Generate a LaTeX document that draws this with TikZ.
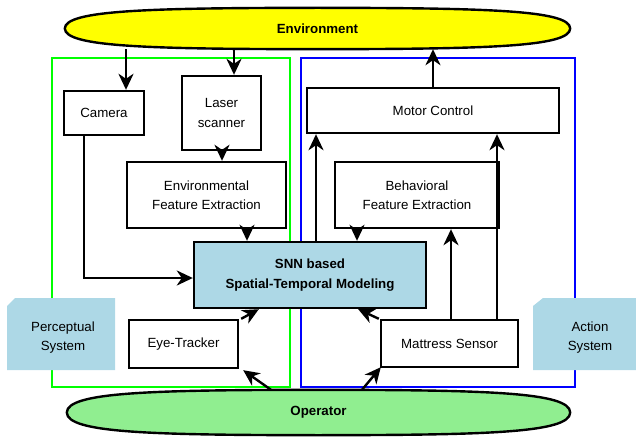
\documentclass[tikz,border=0pt]{standalone}
\usepackage{fontspec}
\setmainfont{Liberation Sans}
\usetikzlibrary{arrows.meta,calc}
\definecolor{envyellow}{HTML}{FFFF00}
\definecolor{opgreen}{HTML}{90EE90}
\definecolor{snnblue}{HTML}{ADD8E6}
\definecolor{percgreen}{HTML}{00FF00}
\definecolor{actblue}{HTML}{0000FF}
\tikzset{
  boxnode/.style={draw=black, line width=2.4pt, fill=white, inner sep=0pt, align=center, font=\fontsize{13.3}{19.5}\selectfont},
  txtnode/.style={inner sep=0pt, align=center, font=\fontsize{13.3}{19.5}\selectfont},
  boldnode/.style={inner sep=0pt, align=center, font=\fontsize{13.3}{19.5}\selectfont\bfseries},
  arr/.style={line width=2.4pt, -{Stealth[length=16pt,width=15pt,inset=5pt]}},
  sysrect/.style={line width=2.2pt},
  cardfill/.style={fill=snnblue, draw=none}
}
\begin{document}
\begin{tikzpicture}[x=1pt,y=-1pt]
\useasboundingbox (0,0) rectangle (636,438);
% system frames
\draw[sysrect, draw=percgreen] (52,58) rectangle (290,387);
\draw[sysrect, draw=actblue] (301,58) rectangle (575,387);
% Environment and Operator
\node[boldnode, minimum width=505pt, minimum height=41pt] (env) at (317.5,28.5) {Environment};
\draw[line width=2.4pt, fill=envyellow] (env.west) .. controls (65,10) and (150,8) .. (env.north) .. controls (485,8) and (570,10) .. (env.east) .. controls (570,47) and (485,49) .. (env.south) .. controls (150,49) and (65,47) .. cycle;
\node[boldnode] at (env.center) {Environment};
\node[boldnode, minimum width=503pt, minimum height=45pt] (op) at (318.5,412.5) {Operator};
\draw[line width=2.4pt, fill=opgreen] (op.west) .. controls (67,392) and (152,390) .. (op.north) .. controls (485,390) and (570,392) .. (op.east) .. controls (570,433) and (485,435) .. (op.south) .. controls (152,435) and (67,433) .. cycle;
\node[boldnode] at (op.center) {Operator};
% boxes
\node[boxnode, minimum width=80pt, minimum height=44pt] (cam) at (104,113) {Camera};
\node[boxnode, minimum width=79pt, minimum height=74pt] (las) at (221.5,113) {Laser\\scanner};
\node[boxnode, minimum width=159pt, minimum height=66pt] (efe) at (206.5,195) {Environmental\\Feature Extraction};
\node[boxnode, fill=snnblue, minimum width=232pt, minimum height=66pt, font=\fontsize{13.3}{19.5}\selectfont\bfseries] (snn) at (310,275) {SNN based\\Spatial-Temporal Modeling};
\node[boxnode, minimum width=109pt, minimum height=48pt] (eye) at (183.5,344) {Eye-Tracker};
\node[boxnode, minimum width=252pt, minimum height=45pt] (mot) at (433,110.5) {Motor Control};
\node[boxnode, minimum width=164pt, minimum height=66pt] (bfe) at (417,195) {Behavioral\\Feature Extraction};
\node[boxnode, minimum width=137pt, minimum height=47pt] (mat) at (449.5,343.5) {Mattress Sensor};
% cards
\path[cardfill] (7,306) -- (15,298) -- (115,298) -- (115,370) -- (7,370) -- cycle;
\node[txtnode] (perc) at (63,337.5) {Perceptual\\System};
\path[cardfill] (533,306) -- (543,298) -- (636,298) -- (636,370) -- (533,370) -- cycle;
\node[txtnode] (act) at (590,337.5) {Action\\System};
% arrows
\draw[arr] ([xshift=22pt]cam.north |- env.south) -- ([xshift=22pt]cam.north);
\draw[arr] ([xshift=12.5pt]las.north |- env.south) -- ([xshift=12.5pt]las.north);
\draw[arr] ([xshift=0.5pt]las.south) -- ([xshift=0.5pt]las.south |- efe.north);
\draw[arr] ([xshift=40.5pt]efe.south) -- ([xshift=40.5pt]efe.south |- snn.north);
\draw[arr] ([xshift=-20pt]cam.south) |- ([yshift=-3pt]snn.west);
\draw[arr] ([xshift=2pt]eye.north east) -- ([xshift=66pt]snn.south west);
\draw[arr] ([xshift=-47.5pt]op.north) -- ([xshift=4pt,yshift=-1pt]eye.south east);
\draw[arr] ([xshift=43.5pt]op.north) -- ([xshift=1pt,yshift=1pt]mat.south west);
\draw[arr] ([xshift=-1pt]mat.north west) -- ([xshift=-69pt]snn.south east);
\draw[arr] ([xshift=6pt]snn.north) -- ([xshift=6pt]snn.north |- mot.south);
\draw[arr] ([xshift=-60pt]bfe.south) -- ([xshift=-60pt]bfe.south |- snn.north);
\draw[arr] ([xshift=1.5pt]mat.north) -- ([xshift=1.5pt]mat.north |- bfe.south);
\draw[arr] ([xshift=47.5pt]mat.north) -- ([xshift=47.5pt]mat.north |- mot.south);
\draw[arr] (mot.north) -- (mot.north |- env.south);
\end{tikzpicture}
\end{document}
